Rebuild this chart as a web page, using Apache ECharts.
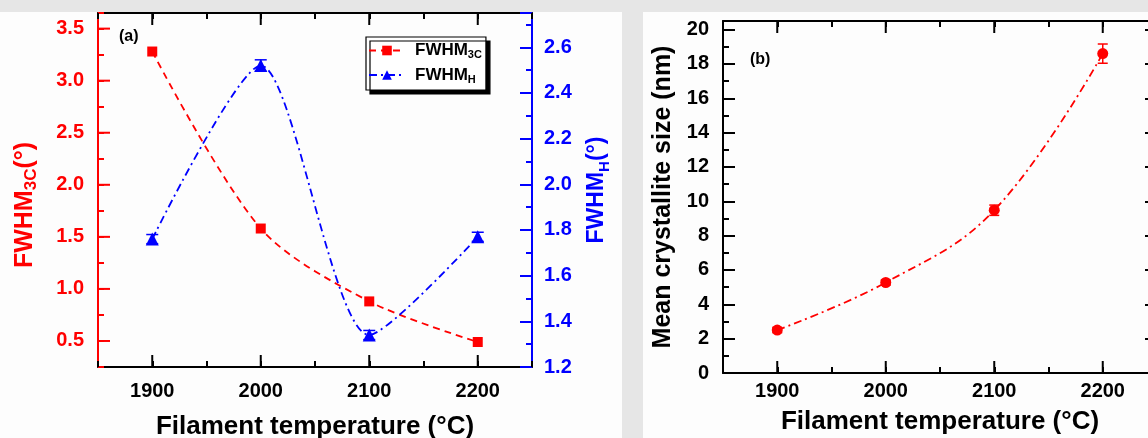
<!DOCTYPE html>
<html lang="en">
<head>
<meta charset="UTF-8">
<title>FWHM and crystallite size</title>
<script src="https://cdn.jsdelivr.net/npm/echarts@6/dist/echarts.min.js"></script>
<style>
  html, body { margin: 0; padding: 0; background: #e6e6e6; }
  #chart { width: 1148px; height: 438px; }
</style>
</head>
<body>
<div id="chart"></div>
<script>
// data
var temps = [1900, 2000, 2100, 2200];
var fwhm3c = [3.28, 1.58, 0.88, 0.49];
var fwhmH = [1.76, 2.52, 1.34, 1.77];
var fwhmHErr = [0.02, 0.025, 0.02, 0.02];
var crystSize = [2.5, 5.27, 9.48, 18.6];
var crystErr = [0.15, 0.15, 0.3, 0.56];

// tick labels
var tempTicks = [1900, 2000, 2100, 2200];
var leftTicks = [0.5, 1.0, 1.5, 2.0, 2.5, 3.0, 3.5];
var hTicks = [1.2, 1.4, 1.6, 1.8, 2.0, 2.2, 2.4, 2.6];
var sizeTicks = [0, 2, 4, 6, 8, 10, 12, 14, 16, 18, 20];

var FONT = 'Liberation Sans, Arial, sans-serif';
var RED = '#ff0000', BLUE = '#0000ff';

function pairs(ys) {
  return temps.map(function (t, i) { return [t, ys[i]]; });
}
function errData(ys, es) {
  return temps.map(function (t, i) { return [t, ys[i] - es[i], ys[i] + es[i]]; });
}
function fix1(v) { return v.toFixed(1); }

// value axis with inside ticks every step; minorTick halves the step
function mkAxis(grid, pos, min, max, step, color, tickLen, label, minor) {
  var a = {
    type: 'value', gridIndex: grid, position: pos, min: min, max: max, interval: step,
    axisLine: { show: true, onZero: false, lineStyle: { color: color, width: 2 } },
    axisTick: { show: true, inside: true, length: tickLen, lineStyle: { color: color, width: 2 } },
    axisLabel: label ? Object.assign({ color: color, fontSize: 20, fontWeight: 'bold',
                fontFamily: FONT }, label) : { show: false },
    splitLine: { show: false }
  };
  if (minor) {
    a.minorTick = { show: true, splitNumber: 2, length: 6, lineStyle: { color: color, width: 2 } };
  }
  return a;
}

// long ticks at values that do not line up with the axis min, placed through the axis scale
function tickRender(dim, color, len, both) {
  return function (params, api) {
    var cs = params.coordSys;
    var p = api.coord([api.value(0), api.value(1)]);
    var st = { stroke: color, lineWidth: 2 };
    var kids = [];
    if (dim === 'x') {
      kids.push({ type: 'line', shape: { x1: p[0], y1: cs.y + cs.height, x2: p[0], y2: cs.y + cs.height - len }, style: st });
      if (both) kids.push({ type: 'line', shape: { x1: p[0], y1: cs.y, x2: p[0], y2: cs.y + len }, style: st });
    } else {
      kids.push({ type: 'line', shape: { x1: cs.x, y1: p[1], x2: cs.x + len, y2: p[1] }, style: st });
    }
    return { type: 'group', children: kids };
  };
}

function errRender(color, cap) {
  return function (params, api) {
    var x = api.value(0);
    var lo = api.coord([x, api.value(1)]);
    var hi = api.coord([x, api.value(2)]);
    var st = { stroke: color, lineWidth: 1.5 };
    return { type: 'group', children: [
      { type: 'line', shape: { x1: lo[0], y1: lo[1], x2: hi[0], y2: hi[1] }, style: st },
      { type: 'line', shape: { x1: lo[0] - cap, y1: lo[1], x2: lo[0] + cap, y2: lo[1] }, style: st },
      { type: 'line', shape: { x1: hi[0] - cap, y1: hi[1], x2: hi[0] + cap, y2: hi[1] }, style: st }
    ] };
  };
}

var xTitle = {
  name: 'Filament temperature (°C)', nameLocation: 'middle',
  nameTextStyle: { fontSize: 26, fontWeight: 'bold', color: '#000', fontFamily: FONT }
};
var xLabel = { customValues: tempTicks, formatter: function (v) { return String(v); } };

var xAxes = [
  Object.assign(mkAxis(0, 'bottom', 1850, 2250, 50, '#000', 6, Object.assign({ margin: 14 }, xLabel)), xTitle, { nameGap: 47 }),
  mkAxis(0, 'top', 1850, 2250, 50, '#000', 6),
  Object.assign(mkAxis(1, 'bottom', 1850, 2250, 50, '#000', 6, Object.assign({ margin: 8 }, xLabel)), xTitle, { nameGap: 36 }),
  mkAxis(1, 'top', 1850, 2250, 50, '#000', 6)
];

// rotated axis title with a subscript; pad pushes the text toward the bottom
function subName(main, sub, color, size, subSize, pad) {
  return {
    nameLocation: 'middle', nameRotate: 90,
    name: '{m|' + main + '}{s|' + sub + '}{m|(°)}{g|}',
    nameTextStyle: { rich: {
      m: { fontSize: size, fontWeight: 'bold', color: color, fontFamily: FONT, lineHeight: 30 },
      s: { fontSize: subSize, fontWeight: 'bold', color: color, fontFamily: FONT, verticalAlign: 'bottom', lineHeight: subSize },
      g: { width: pad }
    } }
  };
}

var yAxes = [
  Object.assign(mkAxis(0, 'left', 0.25, 3.65, 0.25, RED, 6,
    { margin: 14, customValues: leftTicks, formatter: fix1 }), subName('FWHM', '3C', RED, 25, 17, 30), { nameGap: 58 }),
  Object.assign(mkAxis(0, 'right', 1.2, 2.75, 0.2, BLUE, 12,
    { margin: 12, customValues: hTicks, formatter: fix1 }, true), subName('FWHM', 'H', BLUE, 23, 15, 0), { nameGap: 50 }),
  Object.assign(mkAxis(1, 'left', 0, 20.5, 2, '#000', 12, { margin: 14, customValues: sizeTicks }, true), {
    name: 'Mean crystallite size (nm)', nameLocation: 'middle', nameRotate: 90, nameGap: 47,
    nameTextStyle: { fontSize: 25, fontWeight: 'bold', color: '#000', fontFamily: FONT }
  }),
  mkAxis(1, 'right', 0, 20.5, 2, '#000', 12, null, true)
];

var chart = echarts.init(document.getElementById('chart'));
chart.setOption({
  backgroundColor: '#e6e6e6',
  animation: false,
  graphic: [
    { type: 'rect', left: 0, top: 12, z: -10, silent: true,
      shape: { width: 622, height: 426 }, style: { fill: '#fdfdfd' } },
    { type: 'rect', left: 643, top: 12, z: -10, silent: true,
      shape: { width: 505, height: 426 }, style: { fill: '#fdfdfd' } },
    { type: 'text', left: 119, top: 29, style: { text: '(a)', font: 'bold 16px ' + FONT, fill: '#000' } },
    { type: 'text', left: 750, top: 52, style: { text: '(b)', font: 'bold 16px ' + FONT, fill: '#000' } }
  ],
  grid: [
    { left: 98, top: 13, width: 434, height: 354, outerBoundsMode: 'none' },
    { left: 723, top: 21, width: 434, height: 352, outerBoundsMode: 'none' }
  ],
  legend: {
    left: 366, top: 37, orient: 'vertical',
    backgroundColor: '#fff', borderColor: '#000', borderWidth: 1.2,
    shadowColor: '#000', shadowOffsetX: 4, shadowOffsetY: 4, shadowBlur: 0,
    padding: [5, 4, 5, 2], itemGap: 6, itemWidth: 36, itemHeight: 12,
    data: ['FWHM3C', 'FWHMH'],
    formatter: function (n) {
      return n === 'FWHM3C' ? '{g|}{m|FWHM}{s|3C}' : '{g|}{m|FWHM}{s|H}';
    },
    textStyle: { rich: {
      g: { width: 5 },
      m: { fontSize: 17, fontWeight: 'bold', color: '#000', fontFamily: FONT, lineHeight: 20 },
      s: { fontSize: 11, fontWeight: 'bold', color: '#000', fontFamily: FONT, verticalAlign: 'bottom', lineHeight: 11 }
    } }
  },
  xAxis: xAxes,
  yAxis: yAxes,
  series: [
    {
      type: 'custom', xAxisIndex: 0, yAxisIndex: 0, silent: true,
      data: tempTicks.map(function (v) { return [v, 1]; }), encode: { x: 0, y: 1 },
      renderItem: tickRender('x', '#000', 12, true)
    },
    {
      type: 'custom', xAxisIndex: 0, yAxisIndex: 0, silent: true,
      data: leftTicks.map(function (v) { return [1900, v]; }), encode: { x: 0, y: 1 },
      renderItem: tickRender('y', RED, 12)
    },
    {
      type: 'custom', xAxisIndex: 2, yAxisIndex: 2, silent: true,
      data: tempTicks.map(function (v) { return [v, 1]; }), encode: { x: 0, y: 1 },
      renderItem: tickRender('x', '#000', 12, true)
    },
    {
      name: 'FWHM3C', type: 'line', xAxisIndex: 0, yAxisIndex: 0,
      data: pairs(fwhm3c), smooth: 0.3,
      symbol: 'rect', symbolSize: 10,
      itemStyle: { color: RED },
      lineStyle: { color: RED, width: 1.8, type: [7, 5] }
    },
    {
      name: 'FWHMH', type: 'line', xAxisIndex: 0, yAxisIndex: 1,
      data: pairs(fwhmH), smooth: 0.25,
      symbol: 'triangle', symbolSize: 13,
      itemStyle: { color: BLUE },
      lineStyle: { color: BLUE, width: 1.8, type: [8, 4, 2, 4] }
    },
    {
      type: 'custom', xAxisIndex: 0, yAxisIndex: 1,
      data: errData(fwhmH, fwhmHErr), encode: { x: 0, y: [1, 2] },
      renderItem: errRender(BLUE, 6), z: 3
    },
    {
      name: 'size', type: 'line', xAxisIndex: 2, yAxisIndex: 2,
      data: pairs(crystSize), smooth: 0.4,
      symbol: 'circle', symbolSize: 11,
      itemStyle: { color: RED },
      lineStyle: { color: RED, width: 1.8, type: [8, 4, 2, 4] }
    },
    {
      type: 'custom', xAxisIndex: 2, yAxisIndex: 2,
      data: errData(crystSize, crystErr), encode: { x: 0, y: [1, 2] },
      renderItem: errRender(RED, 5), z: 3
    }
  ]
});
</script>
</body>
</html>
